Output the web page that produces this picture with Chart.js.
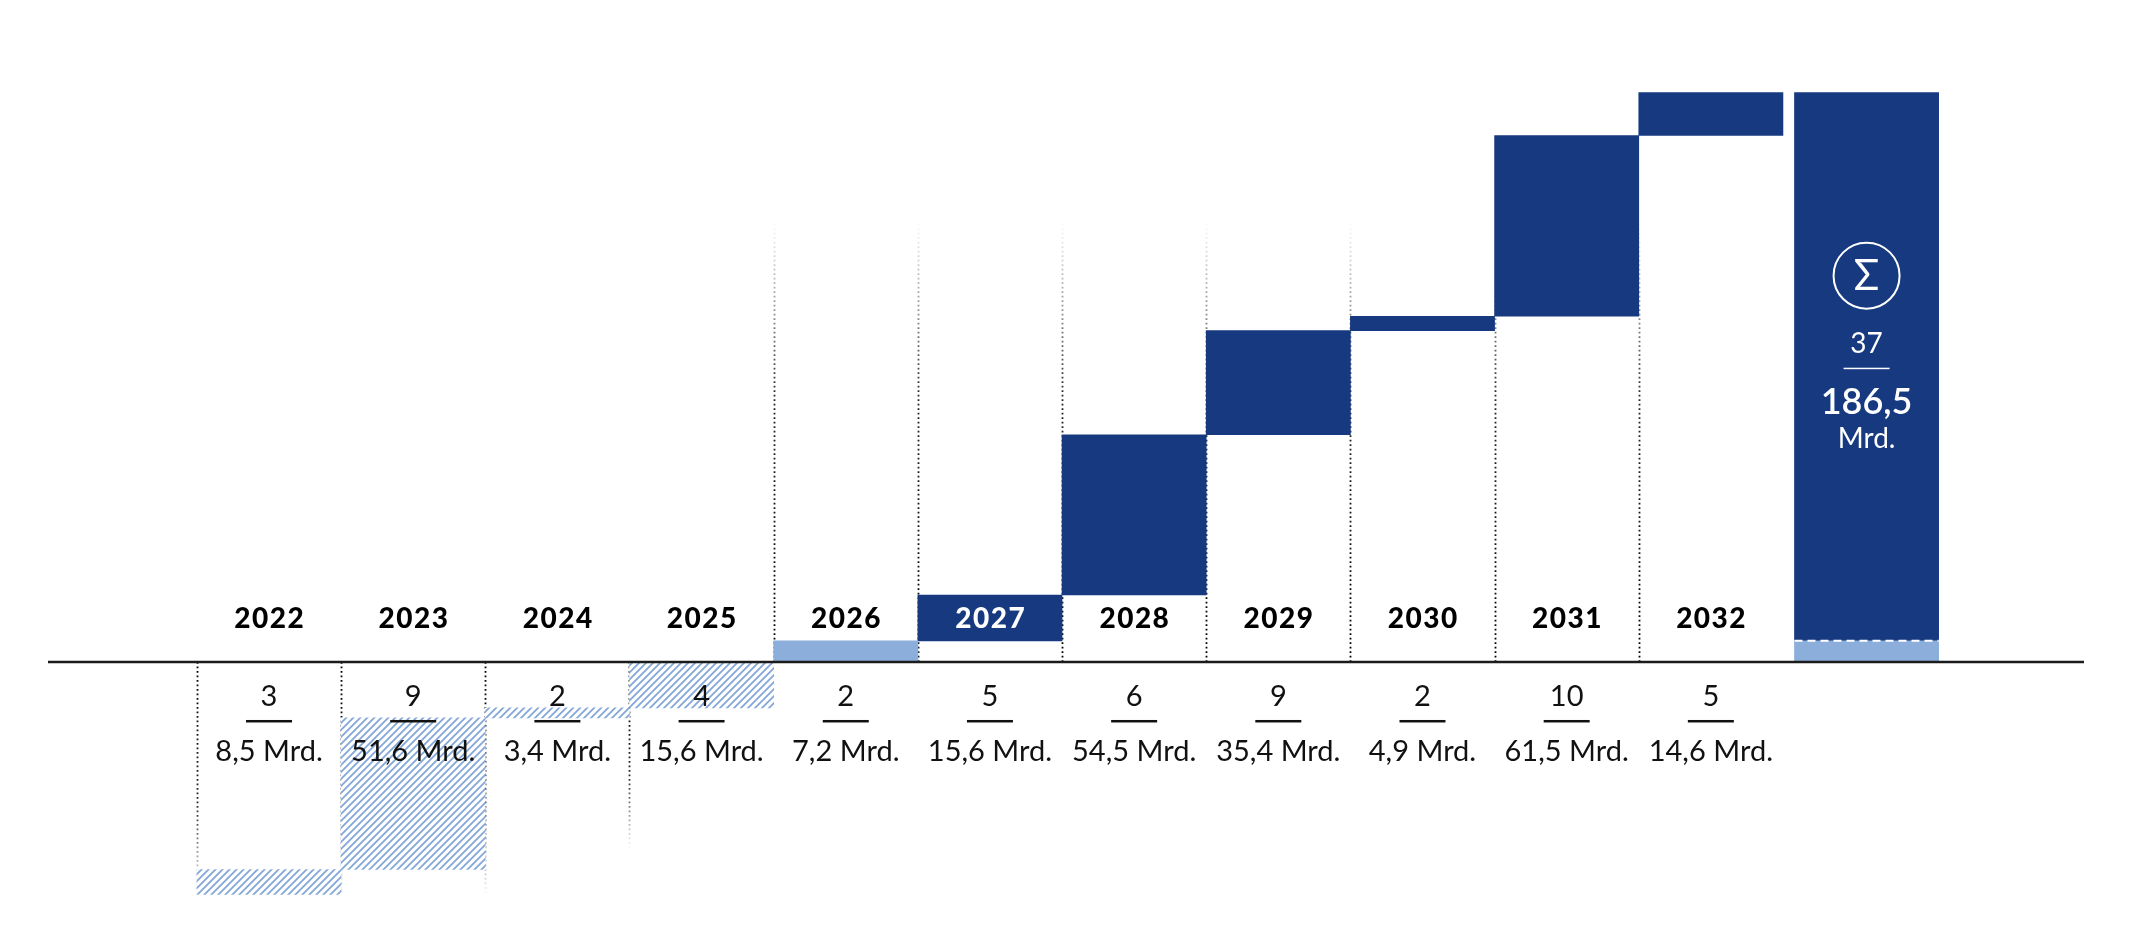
<!DOCTYPE html>
<html lang="de">
<head>
<meta charset="utf-8">
<title>Projekte und Volumen 2022–2032</title>
<script src="https://cdn.jsdelivr.net/npm/chart.js@4.4.1/dist/chart.umd.min.js"></script>
<style>
  html, body { margin: 0; padding: 0; background: #fff; }
  #wrap { width: 2133px; height: 933px; position: relative; }
</style>
</head>
<body>
<div id="wrap"><canvas id="chart"></canvas></div>
<script>
const years = ['2022', '2023', '2024', '2025', '2026', '2027', '2028', '2029', '2030', '2031', '2032'];
const counts = [3, 9, 2, 4, 2, 5, 6, 9, 2, 10, 5];
const volumes = [8.5, 51.6, 3.4, 15.6, 7.2, 15.6, 54.5, 35.4, 4.9, 61.5, 14.6];
const total_count = 37;
const total_volume = 186.5;

// 2022-2025 hatched (running down), 2026 light, 2027+ dark
const first_light = 4;
const first_dark = 5;
const total_x = 11.08;

const DARK = '#16397f';
const LIGHT = '#8caedb';

function makeHatch() {
  const c = document.createElement('canvas');
  c.width = 7; c.height = 7;
  const g = c.getContext('2d');
  g.fillStyle = '#fff';
  g.fillRect(0, 0, 7, 7);
  g.strokeStyle = '#84a7da';
  g.lineWidth = 1.8;
  g.beginPath();
  g.moveTo(-1, 8); g.lineTo(8, -1);
  g.moveTo(-8, 8); g.lineTo(1, -1);
  g.moveTo(6, 8); g.lineTo(15, -1);
  g.stroke();
  return g.createPattern(c, 'repeat');
}

function fmt(v) {
  return v.toFixed(1).replace('.', ',');
}

// build the floating bars from the volumes
const past_bars = [];
let level = 0;
for (let i = first_light - 1; i >= 0; i--) {
  past_bars.push({x: i, y: [level, level - volumes[i]]});
  level -= volumes[i];
}
const light_bars = [
  {x: first_light, y: [0, volumes[first_light]]},
  {x: total_x, y: [0, volumes[first_light]]}
];
const dark_bars = [];
let cum = volumes[first_light];
for (let i = first_dark; i < years.length; i++) {
  dark_bars.push({x: i, y: [cum, cum + volumes[i]]});
  cum += volumes[i];
}
dark_bars.push({x: total_x, y: [volumes[first_light], volumes[first_light] + total_volume]});

const guides = {
  id: 'guides',
  beforeDatasetsDraw(chart) {
    const {ctx, scales: {x, y}} = chart;
    const base = y.getPixelForValue(0);
    // [boundary value, end value]
    const lines = [
      [-0.5, -80], [0.5, -80], [1.5, -80], [2.5, -64],
      [3.5, 150], [4.5, 150], [5.5, 150], [6.5, 150], [7.5, 150], [8.5, 150], [9.5, 150]
    ];
    ctx.save();
    ctx.lineWidth = 1.8;
    ctx.setLineDash([1.8, 2.7]);
    lines.forEach(([bx, end]) => {
      const px = Math.round(x.getPixelForValue(bx)) + 0.5;
      const py = y.getPixelForValue(end);
      const grad = ctx.createLinearGradient(0, base, 0, py);
      grad.addColorStop(0, 'rgba(0,0,0,1)');
      grad.addColorStop(0.6, 'rgba(0,0,0,0.85)');
      grad.addColorStop(1, 'rgba(0,0,0,0)');
      ctx.strokeStyle = grad;
      ctx.beginPath();
      ctx.moveTo(px, base);
      ctx.lineTo(px, py);
      ctx.stroke();
    });
    ctx.restore();
  }
};

const labels = {
  id: 'labels',
  afterDatasetsDraw(chart) {
    const {ctx, chartArea, scales: {x, y}} = chart;
    const base = y.getPixelForValue(0);
    ctx.save();

    // baseline
    ctx.strokeStyle = '#1b1b1b';
    ctx.lineWidth = 2.5;
    ctx.beginPath();
    ctx.moveTo(chartArea.left, base);
    ctx.lineTo(chartArea.right, base);
    ctx.stroke();

    ctx.textAlign = 'center';
    ctx.textBaseline = 'middle';
    years.forEach((yr, i) => {
      const cx = x.getPixelForValue(i);
      const ly = base - 43;
      const dark = dark_bars.find(b => b.x === i);
      let onDark = false;
      if (dark) {
        const top = y.getPixelForValue(dark.y[1]);
        const bot = y.getPixelForValue(dark.y[0]);
        onDark = ly > top && ly < bot;
      }
      ctx.fillStyle = onDark ? '#fff' : '#000';
      ctx.font = '900 28px Lato';
      ctx.letterSpacing = '1.5px';
      ctx.fillText(yr, cx + 0.75, ly);
      ctx.letterSpacing = '0px';

      ctx.fillStyle = '#111';
      ctx.font = '29px Lato';
      ctx.fillText(String(counts[i]), cx, base + 35);
      ctx.fillRect(cx - 23, base + 58, 46, 2.5);
      ctx.fillText(fmt(volumes[i]) + ' Mrd.', cx, base + 90);
    });

    // total bar
    const tx = x.getPixelForValue(total_x);
    const tb = dark_bars[dark_bars.length - 1];
    const tTop = y.getPixelForValue(tb.y[1]);
    const tBot = y.getPixelForValue(tb.y[0]);
    const half = (x.getPixelForValue(1) - x.getPixelForValue(0)) / 2;

    ctx.strokeStyle = '#fff';
    ctx.lineWidth = 2;
    ctx.setLineDash([8, 5]);
    ctx.beginPath();
    ctx.moveTo(tx - half, tBot);
    ctx.lineTo(tx + half, tBot);
    ctx.stroke();
    ctx.setLineDash([]);

    const mid = (tTop + tBot) / 2;
    ctx.lineWidth = 2;
    ctx.beginPath();
    ctx.arc(tx, mid - 91, 33, 0, Math.PI * 2);
    ctx.stroke();
    ctx.fillStyle = '#fff';
    ctx.font = '42px Lato';
    ctx.fillText('Σ', tx, mid - 90);
    ctx.font = '28px Lato';
    ctx.fillText(String(total_count), tx, mid - 23);
    ctx.fillRect(tx - 23, mid + 1, 46, 1.5);
    ctx.font = '600 36px Lato';
    ctx.fillText(fmt(total_volume), tx, mid + 36);
    ctx.font = '28px Lato';
    ctx.fillText('Mrd.', tx, mid + 72);

    ctx.restore();
  }
};

const ctx = document.getElementById('chart');
new Chart(ctx, {
  type: 'bar',
  plugins: [guides, labels],
  data: {
    datasets: [
      {label: 'Vergangen', data: past_bars, backgroundColor: makeHatch(), stack: 's'},
      {label: 'Geplant', data: light_bars, backgroundColor: LIGHT, stack: 's'},
      {label: 'Neu', data: dark_bars, backgroundColor: DARK, stack: 's'}
    ]
  },
  options: {
    responsive: true,
    maintainAspectRatio: false,
    animation: false,
    layout: {padding: {left: 48, right: 49, top: 0, bottom: 0}},
    datasets: {
      bar: {barPercentage: 1, categoryPercentage: 1, borderWidth: 0, borderSkipped: false}
    },
    scales: {
      x: {
        type: 'linear', min: -1.533, max: 12.588, offset: false, stacked: true, display: false,
        afterBuildTicks: (scale) => {
          scale.ticks = years.map((yr, i) => ({value: i}));
        }
      },
      y: {min: -92.2, max: 225.2, stacked: false, display: false}
    },
    plugins: {
      legend: {display: false},
      tooltip: {enabled: false}
    }
  }
});
</script>
</body>
</html>
